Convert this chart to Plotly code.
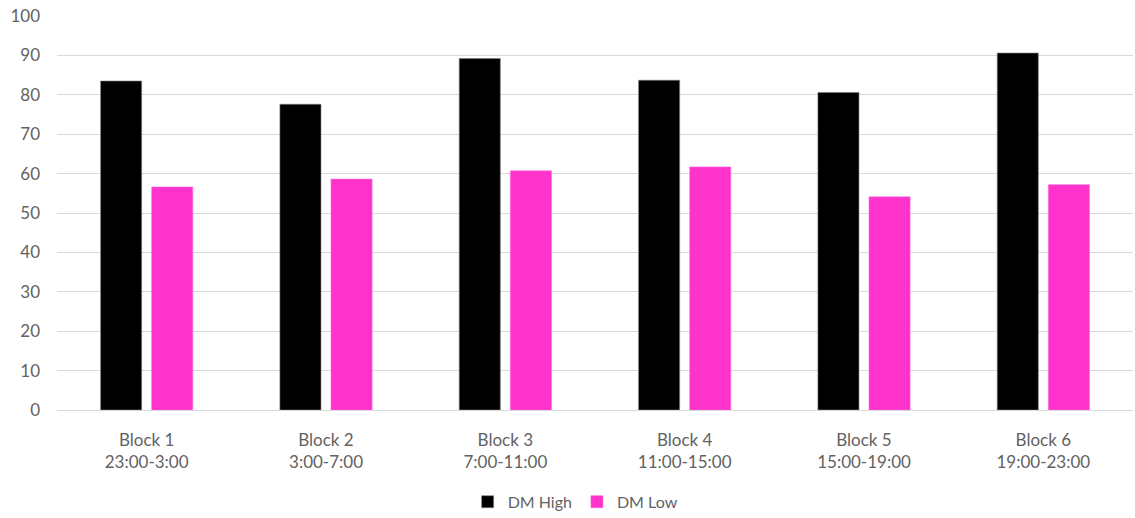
import plotly.graph_objects as go

# Time blocks and mean values per group
blocks = ["Block 1<br>23:00-3:00", "Block 2<br>3:00-7:00", "Block 3<br>7:00-11:00",
          "Block 4<br>11:00-15:00", "Block 5<br>15:00-19:00", "Block 6<br>19:00-23:00"]
dm_high = [83.5, 77.6, 89.2, 83.7, 80.6, 90.6]
dm_low = [56.6, 58.6, 60.7, 61.7, 54.1, 57.2]
y_ticks = [0, 10, 20, 30, 40, 50, 60, 70, 80, 90, 100]

font_family = "Lato, Open Sans, sans-serif"
grey = "#626262"

fig = go.Figure()
fig.add_trace(go.Bar(x=blocks, y=dm_high, name="DM High",
                     marker=dict(color="#000000", line=dict(color="#7f7f7f", width=0.6))))
fig.add_trace(go.Bar(x=blocks, y=dm_low, name="DM Low",
                     marker=dict(color="#FF33CC", line=dict(color="#FF66DD", width=0.6))))

fig.update_layout(
    width=1135, height=518,
    margin=dict(l=57, r=2, t=16, b=108, autoexpand=False),
    paper_bgcolor="white", plot_bgcolor="white",
    barmode="group", bargap=0.43, bargroupgap=0.196,
    font=dict(family=font_family, size=17, color=grey),
    legend=dict(orientation="h", x=0.482, xanchor="center", y=-0.233, yanchor="middle",
                font=dict(size=16, color=grey), itemwidth=30, traceorder="normal"),
    showlegend=True,
)
fig.update_yaxes(range=[0, 100], tickvals=y_ticks, showgrid=True, gridcolor="#D9D9D9",
                 gridwidth=1.3, zeroline=False, showline=False, ticks="",
                 tickfont=dict(size=17, color=grey), ticklabelstandoff=16)
fig.update_xaxes(showgrid=False, showline=True, linecolor="#D9D9D9", linewidth=1.3,
                 ticks="", tickfont=dict(size=17, color=grey), ticklabelstandoff=14)

fig.write_html("out.html")
